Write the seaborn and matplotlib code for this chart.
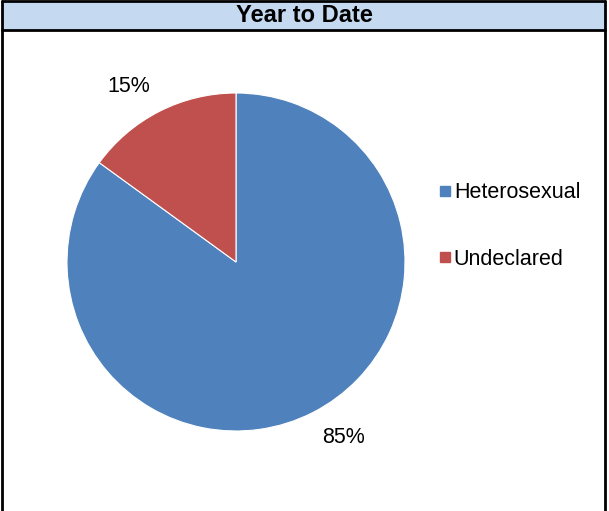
import matplotlib
matplotlib.use("Agg")
import numpy as np
import matplotlib.pyplot as plt
from matplotlib.lines import Line2D
from matplotlib.patches import Rectangle
import seaborn as sns

# data
categories = ["Heterosexual", "Undeclared"]
shares = [85, 15]
colors = ["#4F81BD", "#C0504D"]
title = "Year to Date"

sns.set_theme(style="white")
plt.rcParams["font.family"] = ["Liberation Sans", "DejaVu Sans"]
plt.rcParams["text.color"] = "black"

W, H = 609, 511
fig = plt.figure(figsize=(W / 100, H / 100), dpi=100)
fig.patch.set_facecolor("white")

# title band
fig.patches.append(Rectangle((2 / W, 1 - 30 / H), 603 / W, 28 / H, transform=fig.transFigure,
                             facecolor="#C5D9F1", edgecolor="none", zorder=0))
fig.text(0.5, 1 - 16 / H, title, ha="center", va="center", fontsize=17, fontweight="bold")
for y in (1 - 1.5 / H, 1 - 30 / H):
    fig.lines.append(Line2D([2 / W, 605 / W], [y, y], transform=fig.transFigure, color="black", lw=2))
for x in (2 / W, 605 / W):
    fig.lines.append(Line2D([x, x], [0, 1 - 1.5 / H], transform=fig.transFigure, color="black", lw=2))

# pie
cx, cy, r = 236, 262, 169
ax = fig.add_axes([(cx - r) / W, (H - cy - r) / H, 2 * r / W, 2 * r / H])
wedges, texts, autotexts = ax.pie(shares, colors=colors, startangle=90, counterclock=False,
                                  autopct="%1.0f%%", pctdistance=1.2,
                                  wedgeprops=dict(edgecolor="white", linewidth=0.8),
                                  textprops=dict(fontsize=15.5, color="black"))
# excel-style label placement: slightly rotated from the wedge middle
for w, t in zip(wedges, autotexts):
    ang = np.deg2rad((w.theta1 + w.theta2) / 2 + 4.5)
    t.set_position((1.215 * np.cos(ang), 1.215 * np.sin(ang)))
ax.set_xlim(-1, 1)
ax.set_ylim(-1, 1)
ax.set_aspect("equal")
ax.axis("off")

handles = [Line2D([], [], marker="s", linestyle="none", markersize=7, color=c) for c in colors]
fig.legend(handles, categories, loc="center left", bbox_to_anchor=(429 / W, 1 - 226 / H),
           frameon=False, fontsize=15.5, handlelength=0.5, handletextpad=0.15, labelspacing=2.1,
           borderpad=0)

fig.savefig("out.png", dpi=100)
